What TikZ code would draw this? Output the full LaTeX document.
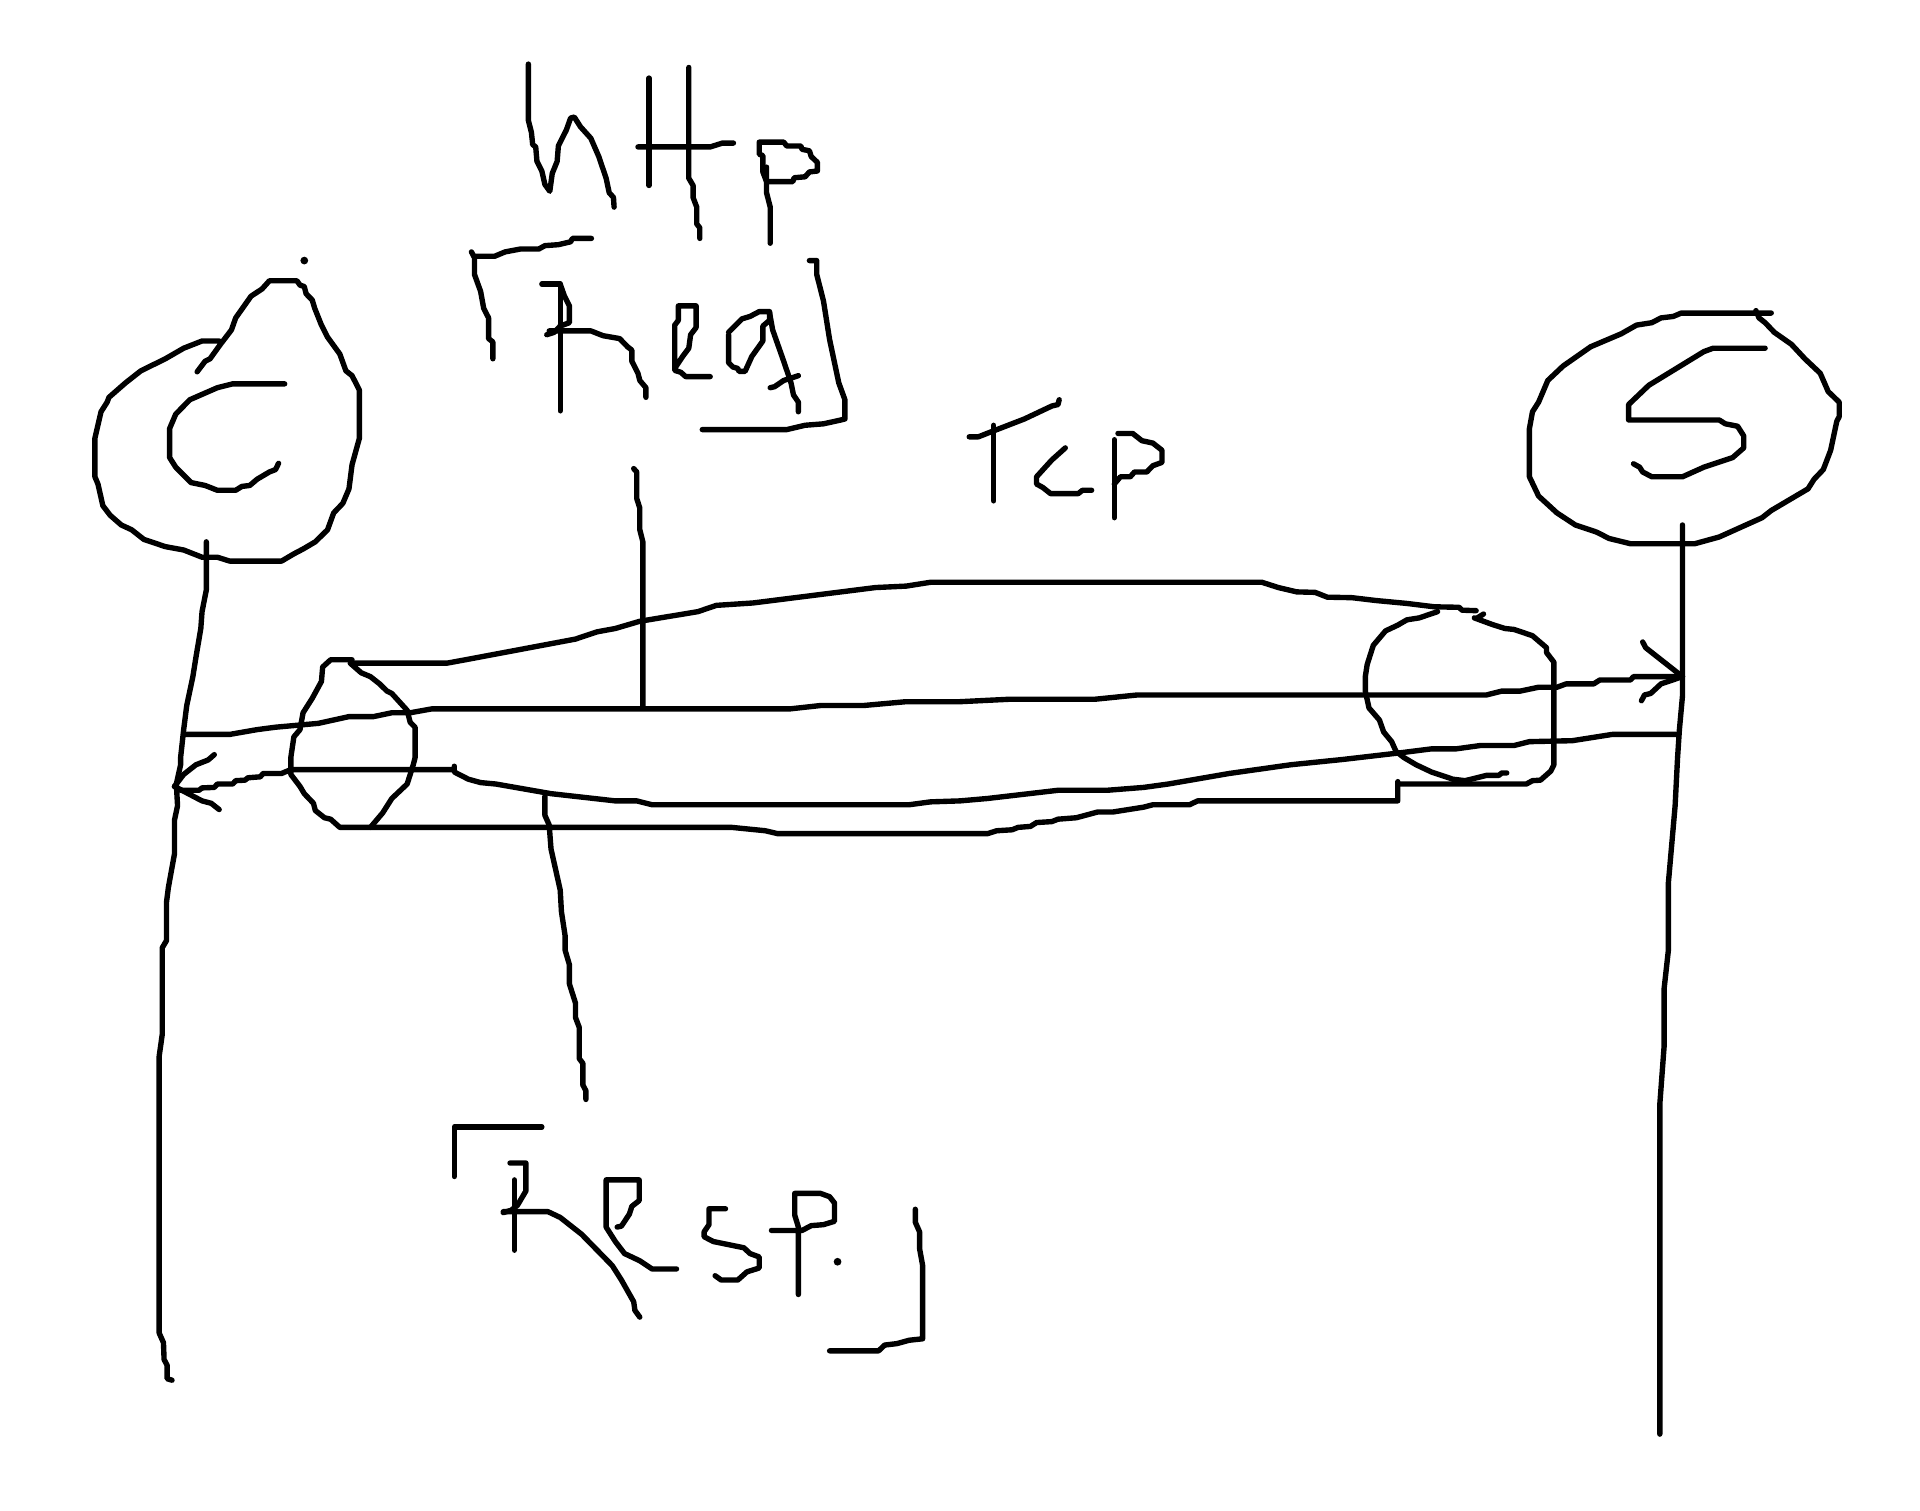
\documentclass[tikz,border=0pt]{standalone}
\tikzset{
	pen/.style={line width=1.25pt,line cap=round,line join=round},
}
\begin{document}
\begin{tikzpicture}[x=0.005cm,y=-0.0039426cm]
\useasboundingbox (0,0) rectangle (3136,3136);
\begin{scope}[pen,yshift=-0.02cm]
% client
\draw (322,767)--(335,745)--(343,740)--(360,710)--(378,680)--(385,655)--(410,610)--(428,595)--(440,578)--(485,578)--(490,587)--(497,590)--(500,605)--(510,618)--(514,635)--(525,670)--(535,695)--(555,730)--(565,765)--(575,775)--(587,805)--(587,905)--(575,960)--(570,1010)--(560,1040)--(545,1060)--(535,1095)--(515,1120)--(495,1135)--(480,1145)--(460,1160)--(375,1160)--(355,1152)--(330,1152)--(300,1137)--(270,1130)--(235,1115)--(215,1095)--(198,1085)--(180,1065)--(168,1045)--(160,1000)--(155,985)--(155,905)--(165,850)--(175,830)--(178,820)--(205,790)--(230,765)--(270,740)--(300,718)--(330,703)--(358,703);
\draw (465,792)--(380,792)--(355,800)--(310,825)--(287,855)--(277,885)--(277,945)--(287,965)--(312,997)--(335,1003)--(355,1013)--(385,1013)--(395,1005)--(408,1003)--(420,990)--(440,975)--(450,970)--(455,957);
\fill (497,536) circle[radius=0.9pt];
\draw (337,1120)--(337,1220)--(330,1265)--(328,1300)--(320,1360)--(315,1400)--(305,1460)--(300,1510)--(295,1568)--(295,1583)--(288,1623)--(290,1668)--(285,1698)--(285,1768)--(275,1838)--(272,1868)--(272,1948)--(265,1963)--(265,2143)--(260,2188)--(260,2763)--(267,2783)--(268,2818)--(273,2830)--(273,2858)--(281,2861);
% server
\draw (2893,645)--(2746,645)--(2733,652)--(2713,655)--(2698,665)--(2673,670)--(2648,688)--(2598,715)--(2553,755)--(2528,785)--(2513,830)--(2503,850)--(2498,885)--(2498,985)--(2513,1025)--(2543,1060)--(2573,1085)--(2608,1100)--(2628,1113)--(2663,1124)--(2768,1124)--(2808,1110)--(2878,1070)--(2893,1055)--(2953,1010)--(2963,990)--(2978,970)--(2990,930)--(3000,870)--(3004,860)--(3004,830)--(2986,808)--(2973,770)--(2948,740)--(2926,710)--(2898,685)--(2883,665)--(2873,655)--(2868,640);
\draw (2883,718)--(2798,718)--(2783,725)--(2693,795)--(2660,835)--(2660,867)--(2808,867)--(2818,875)--(2838,880)--(2848,900)--(2848,925)--(2830,945)--(2783,965)--(2748,985)--(2698,985)--(2683,975)--(2678,965)--(2668,958);
\draw (2748,1085)--(2748,1440)--(2743,1510)--(2740,1568)--(2736,1668)--(2725,1828)--(2725,1968)--(2718,2048)--(2718,2168)--(2711,2288)--(2711,2973);
% http
\draw (863,128)--(863,245)--(868,270)--(870,295)--(875,300)--(877,330)--(885,350)--(890,378)--(898,392)--(902,355)--(910,330)--(912,298)--(925,265)--(932,240)--(938,238)--(948,258)--(965,282)--(978,320)--(990,365)--(995,395)--(1002,405)--(1003,425);
\draw (1060,157)--(1060,380);
\draw (1042,300)--(1160,300)--(1180,292)--(1198,292);
\draw (1125,135)--(1125,365)--(1132,380)--(1132,405)--(1138,425)--(1138,460)--(1143,468)--(1143,490);
\draw (1258,500)--(1258,425)--(1252,395)--(1252,342);
\draw (1252,372)--(1295,372)--(1297,364)--(1315,362)--(1322,352)--(1335,350)--(1335,332)--(1325,320)--(1322,308)--(1310,305)--(1308,298)--(1285,298)--(1280,290)--(1240,290)--(1240,315)--(1246,318)--(1246,352)--(1252,372);
% req
\draw (805,740)--(805,705)--(798,698)--(798,655)--(790,635)--(785,600)--(775,565)--(775,530)--(770,518);
\draw (775,527)--(808,527)--(825,518)--(850,512)--(880,512)--(890,505)--(912,503)--(932,497)--(935,490)--(966,490);
\draw (1322,536)--(1334,536)--(1334,565)--(1345,620)--(1355,700)--(1370,790)--(1380,825)--(1380,865)--(1370,868)--(1345,875)--(1315,878)--(1285,887)--(1147,887);
\draw (915,848)--(915,585)--(885,585);
\draw (915,585)--(922,610)--(930,630)--(930,665)--(915,672)--(905,685)--(893,690);
\draw (897,682)--(965,682)--(985,692)--(1012,698)--(1025,715)--(1032,722)--(1032,745)--(1042,770)--(1045,785)--(1055,800)--(1055,820);
\draw (1160,777)--(1120,777)--(1112,768)--(1102,764)--(1102,670)--(1108,660)--(1108,630)--(1137,630)--(1137,675)--(1128,690)--(1125,718)--(1115,735)--(1102,760);
\draw (1190,690)--(1190,748)--(1197,757)--(1205,760)--(1207,766)--(1217,766)--(1228,735)--(1246,703)--(1246,672)--(1257,660)--(1257,642)--(1240,642)--(1225,652)--(1212,657)--(1190,685);
\draw (1257,645)--(1262,680)--(1280,745)--(1292,790)--(1296,815)--(1304,830)--(1304,850);
\draw (1258,800)--(1265,798)--(1280,785)--(1304,775);
\draw (1035,968)--(1040,975)--(1040,1030)--(1045,1050)--(1045,1095)--(1050,1120)--(1050,1465);
% tcp
\draw (1583,902)--(1598,902)--(1618,892)--(1673,865)--(1718,838)--(1728,835)--(1730,825);
\draw (1623,878)--(1623,1035);
\draw (1740,925)--(1718,950)--(1693,985)--(1693,1000)--(1703,1007)--(1716,1020)--(1761,1020)--(1768,1013)--(1783,1013);
\draw (1820,908)--(1820,1070);
\draw (1826,895)--(1850,895)--(1865,910)--(1883,915)--(1898,930)--(1898,955)--(1883,962)--(1873,975)--(1853,975)--(1846,985)--(1830,985)--(1820,1000);
% tunnel
\draw (575,1372)--(730,1372)--(760,1365)--(940,1322)--(975,1307)--(1005,1300)--(1045,1285)--(1140,1265)--(1170,1252)--(1230,1247)--(1430,1215)--(1480,1212)--(1520,1204)--(2061,1204)--(2088,1215)--(2118,1224)--(2148,1225)--(2168,1235)--(2208,1236)--(2248,1242)--(2298,1248)--(2343,1255)--(2383,1256)--(2388,1262)--(2411,1263);
\draw (575,1365)--(540,1365)--(527,1380)--(525,1410)--(510,1445)--(495,1475)--(490,1510)--(480,1525)--(475,1568)--(475,1603)--(490,1628)--(497,1643)--(512,1663)--(515,1678)--(530,1693)--(540,1696)--(555,1713)--(1195,1713)--(1250,1720)--(1270,1726)--(1613,1726)--(1628,1720)--(1653,1718)--(1663,1713)--(1683,1711)--(1693,1703)--(1718,1701)--(1728,1696)--(1758,1693)--(1793,1681)--(1818,1681)--(1868,1671)--(1883,1666)--(1943,1666)--(1956,1658)--(2283,1658)--(2283,1618);
\draw (572,1372)--(590,1392)--(605,1400)--(620,1415)--(632,1430)--(640,1435)--(665,1470)--(670,1495)--(678,1505)--(678,1568)--(675,1583)--(665,1623)--(640,1653)--(625,1683)--(605,1713);
\draw (2283,1623)--(2493,1623)--(2503,1616)--(2516,1615)--(2533,1596)--(2538,1583)--(2538,1370)--(2526,1350)--(2526,1340)--(2503,1315)--(2473,1302)--(2458,1300)--(2438,1292)--(2423,1285)--(2408,1278);
\draw (2413,1278)--(2423,1270);
\draw (2348,1265)--(2318,1278)--(2298,1282)--(2283,1293)--(2263,1305)--(2253,1320)--(2243,1335)--(2233,1375)--(2230,1400)--(2230,1430)--(2236,1465)--(2253,1490)--(2260,1515)--(2273,1535)--(2280,1555)--(2293,1568)--(2313,1583)--(2338,1598)--(2373,1613)--(2393,1616)--(2428,1605)--(2448,1605)--(2453,1600)--(2461,1600);
% request arrow
\draw (303,1520)--(375,1520)--(420,1510)--(450,1505)--(520,1497)--(570,1483)--(610,1483)--(640,1475)--(670,1475)--(705,1467)--(1290,1467)--(1340,1460)--(1410,1460)--(1480,1452)--(1568,1452)--(1648,1447)--(1788,1447)--(1858,1438)--(2428,1438)--(2453,1430)--(2483,1430)--(2513,1422)--(2543,1422)--(2558,1415)--(2603,1415)--(2613,1407)--(2663,1407)--(2668,1400)--(2748,1400);
\draw (2683,1328)--(2688,1340)--(2718,1370)--(2748,1400);
\draw (2681,1450)--(2686,1438)--(2696,1435)--(2713,1415)--(2748,1400);
% response arrow
\draw (2738,1520)--(2633,1520)--(2568,1533)--(2498,1535)--(2473,1543)--(2418,1543)--(2378,1550)--(2338,1550)--(2288,1558)--(2193,1572)--(2108,1583)--(2008,1601)--(1908,1623)--(1868,1630)--(1808,1636)--(1728,1636)--(1613,1653)--(1568,1658)--(1520,1660)--(1485,1666)--(1065,1666)--(1040,1658)--(1005,1658)--(900,1643)--(810,1623)--(785,1620)--(765,1613)--(742,1598)--(742,1586);
\draw (742,1593)--(475,1593)--(460,1601)--(430,1601)--(425,1608)--(405,1610)--(400,1615)--(385,1616)--(380,1623)--(355,1623)--(350,1630)--(330,1631)--(325,1636)--(295,1636)--(285,1628);
\draw (350,1562)--(340,1573)--(320,1583)--(300,1603)--(285,1628);
\draw (285,1628)--(330,1658)--(345,1663)--(358,1676);
% resp
\draw (890,1648)--(890,1688)--(897,1708)--(900,1758)--(915,1843)--(917,1888)--(923,1938)--(923,1968)--(930,1998)--(930,2038)--(940,2078)--(940,2108)--(946,2128)--(946,2193)--(952,2203)--(952,2248)--(957,2260)--(957,2278);
\draw (742,2438)--(742,2335)--(885,2335);
\draw (840,2445)--(840,2591);
\draw (833,2410)--(859,2410)--(859,2468)--(845,2498)--(835,2508)--(822,2513);
\draw (822,2511)--(895,2511)--(915,2523)--(950,2558)--(1000,2623)--(1015,2653)--(1035,2698)--(1037,2716)--(1045,2730);
\draw (1008,2543)--(1015,2541)--(1028,2516)--(1032,2500)--(1044,2488)--(1044,2445)--(990,2445)--(990,2543)--(1005,2573)--(1020,2598)--(1045,2613)--(1065,2630)--(1105,2630);
\draw (1185,2505)--(1158,2505)--(1158,2538)--(1150,2553)--(1150,2563)--(1165,2573)--(1215,2586)--(1225,2598)--(1240,2605)--(1240,2628)--(1220,2636)--(1205,2653)--(1178,2653)--(1168,2644);
\draw (1260,2550)--(1310,2550)--(1325,2540)--(1345,2538)--(1363,2531)--(1363,2493)--(1355,2480)--(1340,2473)--(1298,2473)--(1298,2518)--(1304,2543)--(1304,2683);
\fill (1368,2615) circle[radius=0.9pt];
\draw (1495,2506)--(1495,2533)--(1502,2553)--(1502,2588)--(1507,2623)--(1507,2775)--(1485,2778)--(1465,2785)--(1445,2788)--(1435,2800)--(1355,2800);
\end{scope}
\end{tikzpicture}
\end{document}
